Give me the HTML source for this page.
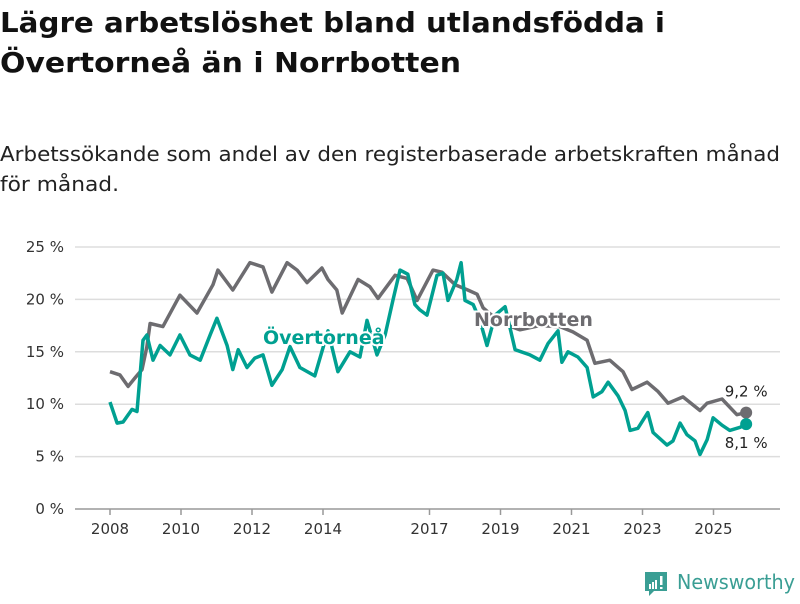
<!DOCTYPE html>
<html><head><meta charset="utf-8">
<style>
body{margin:0;width:800px;height:600px;background:#fff;font-family:"DejaVu Sans","Liberation Sans",sans-serif;overflow:hidden}
svg text{font-family:"DejaVu Sans","Liberation Sans",sans-serif}
</style></head>
<body>
<svg id="chart" width="800" height="600">
<text x="0" y="32" font-size="28" font-weight="bold" fill="#111" textLength="665" lengthAdjust="spacingAndGlyphs">Lägre arbetslöshet bland utlandsfödda i</text>
<text x="0" y="72" font-size="28" font-weight="bold" fill="#111" textLength="461" lengthAdjust="spacingAndGlyphs">Övertorneå än i Norrbotten</text>
<text x="0" y="161" font-size="20.5" fill="#222" textLength="780" lengthAdjust="spacingAndGlyphs">Arbetssökande som andel av den registerbaserade arbetskraften månad</text>
<text x="0" y="191" font-size="20.5" fill="#222" textLength="119" lengthAdjust="spacingAndGlyphs">för månad.</text>
<g id="grid"></g><g id="xaxis"></g><g id="series"></g><g id="labels"></g>
<g>
<path d="M645 572h22v19h-13l-5 5v-5h-4z" fill="#3a9e94"/>
<rect x="649" y="584" width="2" height="5" fill="#fff"/><rect x="652" y="582" width="2" height="7" fill="#fff"/><rect x="655" y="580" width="2" height="9" fill="#fff"/><rect x="660" y="576" width="2.5" height="9" fill="#fff"/><rect x="660" y="587" width="2.5" height="2" fill="#fff"/>
<text x="677" y="589" font-size="20" fill="#3a9e94" textLength="118" lengthAdjust="spacingAndGlyphs">Newsworthy</text>
</g>
</svg>
<script>
const yTicks=[0,5,10,15,20,25];
const xTicks=[2008,2010,2012,2014,2017,2019,2021,2023,2025];
const norrDates=[2008.0,2008.28,2008.51,2008.7,2008.9,2009.04,2009.13,2009.49,2009.97,2010.45,2010.9,2011.04,2011.46,2011.94,2012.31,2012.56,2012.99,2013.27,2013.55,2013.97,2014.14,2014.39,2014.54,2014.99,2015.32,2015.55,2016.03,2016.37,2016.65,2017.1,2017.35,2017.72,2018.08,2018.34,2018.51,2018.99,2019.55,2020.11,2020.68,2021.04,2021.44,2021.66,2022.08,2022.45,2022.7,2023.13,2023.44,2023.72,2024.14,2024.62,2024.82,2025.24,2025.66,2025.92];
const norrValues=[13.1,12.8,11.7,12.5,13.3,15.5,17.7,17.4,20.4,18.7,21.4,22.8,20.9,23.5,23.1,20.7,23.5,22.8,21.6,23.0,21.9,20.9,18.7,21.9,21.2,20.1,22.3,22.0,19.9,22.8,22.6,21.4,20.9,20.5,19.2,17.8,17.1,17.5,17.4,16.9,16.1,13.9,14.2,13.1,11.4,12.1,11.2,10.1,10.7,9.4,10.1,10.5,9.0,9.2];
const overDates=[2008.0,2008.2,2008.37,2008.62,2008.76,2008.93,2009.04,2009.21,2009.41,2009.69,2009.97,2010.25,2010.54,2010.82,2011.01,2011.3,2011.46,2011.61,2011.86,2012.08,2012.31,2012.56,2012.85,2013.07,2013.35,2013.77,2014.14,2014.42,2014.76,2015.04,2015.24,2015.52,2015.75,2015.97,2016.17,2016.39,2016.59,2016.73,2016.93,2017.21,2017.38,2017.52,2017.77,2017.89,2018.0,2018.23,2018.42,2018.62,2018.85,2019.13,2019.41,2019.83,2020.11,2020.34,2020.62,2020.73,2020.9,2021.18,2021.44,2021.61,2021.86,2022.03,2022.31,2022.51,2022.65,2022.87,2023.15,2023.3,2023.69,2023.86,2024.06,2024.25,2024.48,2024.62,2024.82,2024.99,2025.24,2025.46,2025.75,2025.92];
const overValues=[10.2,8.2,8.3,9.5,9.3,16.1,16.6,14.2,15.6,14.7,16.6,14.7,14.2,16.6,18.2,15.6,13.3,15.2,13.5,14.4,14.7,11.8,13.3,15.5,13.5,12.7,17.0,13.1,15.0,14.5,18.0,14.7,16.6,19.9,22.8,22.4,19.5,19.0,18.5,22.3,22.5,19.9,21.9,23.5,19.9,19.5,18.0,15.6,18.5,19.3,15.2,14.7,14.2,15.8,17.0,14.0,15.0,14.5,13.5,10.7,11.2,12.1,10.8,9.4,7.5,7.7,9.2,7.3,6.1,6.5,8.2,7.1,6.5,5.2,6.6,8.7,8.0,7.5,7.8,8.1];
const NS="http://www.w3.org/2000/svg";
const X=t=>110+(t-2008)*35.5;
const Y=v=>509-v*10.48;
function mk(tag,attrs,parent,txt){const e=document.createElementNS(NS,tag);for(const k in attrs)e.setAttribute(k,attrs[k]);if(txt!==undefined)e.textContent=txt;document.getElementById(parent).appendChild(e);return e;}
yTicks.forEach(v=>{
 const l=mk('line',{x1:75,x2:780,y1:Y(v),y2:Y(v),stroke:v===0?'#999':'#ddd','stroke-width':1.5},'grid');
 
 
 const t=mk('text',{x:64,y:Y(v)+5,'font-size':15,fill:'#333','text-anchor':'end'},'grid',v+' %');
 
 
});
xTicks.forEach(yr=>{
 const l=mk('line',{x1:X(yr),x2:X(yr),y1:509,y2:515,stroke:'#999','stroke-width':1.5},'xaxis');
 
 
 const t=mk('text',{x:X(yr),y:534,'font-size':15,fill:'#333','text-anchor':'middle'},'xaxis',String(yr));
 
 
});
function line(d,v,color,name){
 const p=d.map((t,i)=>(i?'L':'M')+X(t).toFixed(1)+' '+Y(v[i]).toFixed(1)).join('');
 const e=mk('path',{d:p,fill:'none',stroke:color,'stroke-width':3.5,'stroke-linejoin':'round'},'series');
 
 
 const n=d.length-1;
 const c=mk('circle',{cx:X(d[n]),cy:Y(v[n]),r:6,fill:color},'series');
 
 
}
line(norrDates,norrValues,'#6d6c70','norrbotten');
line(overDates,overValues,'#00a091','overtornea');
function lab(x,y,txt,color,name,bold,size,anchor){
 const t=mk('text',{x:x,y:y,'font-size':size,'font-weight':bold?'bold':'normal',fill:color,stroke:'#fff','stroke-width':4,'paint-order':'stroke','text-anchor':anchor||'start'},'labels',txt);
 
 
}
lab(263,344,'Övertorneå','#00a091','overtornea-label',true,19);
lab(474,326,'Norrbotten','#6d6c70','norrbotten-label',true,19);
const nl=norrValues.length-1, ol=overValues.length-1;
lab(X(norrDates[nl]),Y(norrValues[nl])-16,norrValues[nl].toFixed(1).replace('.',',')+' %','#222','norrbotten-value-label',false,15,'middle');
lab(X(overDates[ol]),Y(overValues[ol])+24,overValues[ol].toFixed(1).replace('.',',')+' %','#222','overtornea-value-label',false,15,'middle');
</script>
</body></html>
